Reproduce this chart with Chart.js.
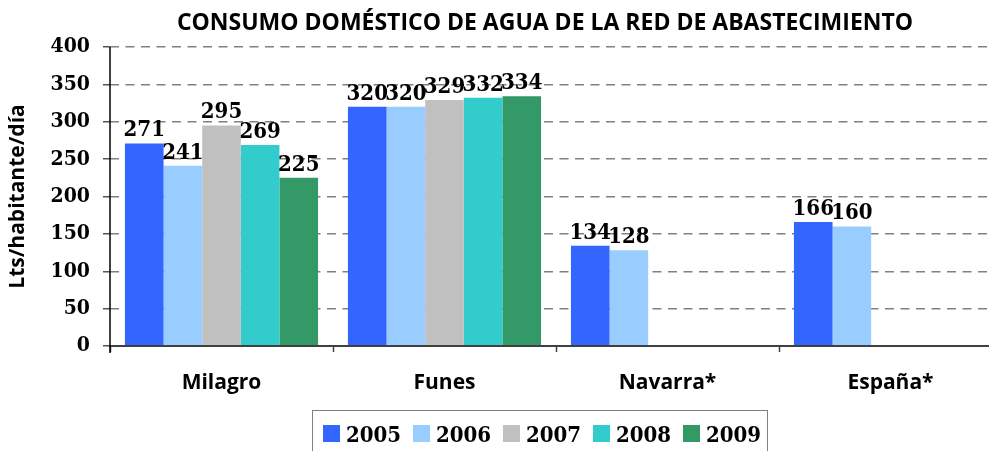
<!DOCTYPE html>
<html>
<head>
<meta charset="utf-8">
<script src="https://cdn.jsdelivr.net/npm/chart.js@4"></script>
<style>
  html, body { margin: 0; padding: 0; background: #fff; overflow: hidden; width: 989px; height: 451px; }
  #wrap { position: absolute; left: 0; top: 0; width: 1010px; height: 451px; }
  #title { position: absolute; top: 5px; left: 145px; width: 800px; text-align: center;
           font: bold 23px "Open Sans", sans-serif; color: #000; white-space: nowrap; }
  #legend { position: absolute; left: 312px; top: 410px; width: 456px; height: 50px;
            border: 1.5px solid #808080; box-sizing: border-box; }
  .item { position: absolute; top: 13px; height: 20px; font: bold 22px "DejaVu Serif Condensed", "DejaVu Serif", serif; line-height: 20px; color: #000; }
  .sw { position: absolute; left: 0; top: 1px; width: 17px; height: 17px; }
  .lt { position: absolute; left: 23px; top: 0; }
</style>
</head>
<body>
<div id="wrap"><canvas id="c" width="1010" height="451"></canvas></div>
<div id="title"></div>
<div id="legend"></div>
<script>
const chartTitle = 'CONSUMO DOMÉSTICO DE AGUA DE LA RED DE ABASTECIMIENTO';
const yAxisTitle = 'Lts/habitante/día';
const categories = ['Milagro', 'Funes', 'Navarra*', 'España*'];
const years = ['2005', '2006', '2007', '2008', '2009'];
const v2005 = [271, 320, 134, 166];
const v2006 = [241, 320, 128, 160];
const v2007 = [295, 329, null, null];
const v2008 = [269, 332, null, null];
const v2009 = [225, 334, null, null];
const yMin = 0, yMax = 400, yStep = 50;

const colors = ['#3366FF', '#99CCFF', '#C0C0C0', '#33CCCC', '#339966'];
const seriesValues = [v2005, v2006, v2007, v2008, v2009];

document.getElementById('title').textContent = chartTitle;

const numFont = '"DejaVu Serif Condensed", "DejaVu Serif", serif';
const sansFont = '"Open Sans", Lato, sans-serif';

const valueLabels = {
  id: 'valueLabels',
  afterDatasetsDraw(chart) {
    const ctx = chart.ctx;
    ctx.save();
    ctx.font = 'bold 22px ' + numFont;
    ctx.fillStyle = '#000';
    ctx.textAlign = 'center';
    ctx.textBaseline = 'alphabetic';
    chart.data.datasets.forEach((ds, i) => {
      const meta = chart.getDatasetMeta(i);
      meta.data.forEach((el, j) => {
        const v = ds.data[j];
        if (v === null || v === undefined) return;
        ctx.fillText(String(v), el.x, el.y - 7);
      });
    });
    ctx.restore();
  }
};

// solid y axis line drawn over the dashed grid
const yAxisLine = {
  id: 'yAxisLine',
  afterDraw(chart) {
    const ctx = chart.ctx, a = chart.chartArea;
    ctx.save();
    ctx.strokeStyle = '#000';
    ctx.lineWidth = 1.5;
    ctx.setLineDash([]);
    ctx.beginPath();
    ctx.moveTo(a.left, a.top);
    ctx.lineTo(a.left, a.bottom + 7);
    ctx.stroke();
    ctx.restore();
  }
};

const chart = new Chart(document.getElementById('c'), {
  type: 'bar',
  data: {
    labels: categories,
    datasets: years.map((y, i) => ({
      label: y,
      data: seriesValues[i],
      backgroundColor: colors[i],
      borderWidth: 0,
      barPercentage: 1.0,
      categoryPercentage: 0.866
    }))
  },
  options: {
    responsive: false,
    animation: false,
    devicePixelRatio: 1,
    layout: { padding: { top: 47, left: 0, right: 8, bottom: 0 } },
    plugins: {
      legend: { display: false },
      title: { display: false },
      tooltip: { enabled: false }
    },
    scales: {
      x: {
        afterFit(scale) { scale.height = 105; },
        grid: { display: true, drawOnChartArea: false, drawTicks: true, tickLength: 6, tickColor: '#404040', tickWidth: 1.5, offset: true },
        border: { display: true, color: '#404040', width: 2, z: 1 },
        ticks: { color: '#000', font: { family: sansFont, size: 21, weight: 'bold' }, padding: 18 }
      },
      y: {
        min: yMin, max: yMax,
        afterFit(scale) { scale.width = 110; },
        ticks: { stepSize: yStep, color: '#000', font: { family: numFont, size: 21, weight: 'bold' }, padding: 13 },
        grid: { color: '#808080', lineWidth: 1.5, tickLength: 7, tickColor: '#555', tickBorderDash: [], tickWidth: 1.5 },
        border: { display: false, dash: [9, 6.5] },
        title: { display: true, text: yAxisTitle, color: '#000', font: { family: sansFont, size: 21, weight: 'bold' }, padding: { top: 5, bottom: 0 } }
      }
    }
  },
  plugins: [valueLabels, yAxisLine]
});

// HTML legend built from datasets
const legend = document.getElementById('legend');
chart.data.datasets.forEach((ds, i) => {
  const it = document.createElement('div');
  it.className = 'item';
  it.style.left = (10 + i * 90) + 'px';
  const sw = document.createElement('div');
  sw.className = 'sw';
  sw.style.background = ds.backgroundColor;
  const lt = document.createElement('div');
  lt.className = 'lt';
  lt.textContent = ds.label;
  it.appendChild(sw); it.appendChild(lt);
  legend.appendChild(it);
});
</script>
</body>
</html>
